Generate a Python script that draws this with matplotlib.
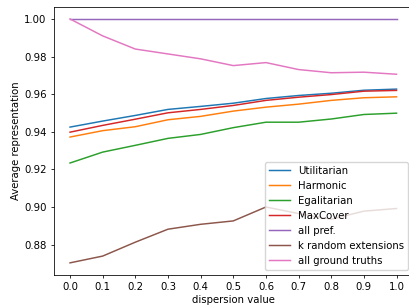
import numpy as np
import matplotlib
matplotlib.use("Agg")
import matplotlib.pyplot as plt

dispersion = [0.0, 0.1, 0.2, 0.3, 0.4, 0.5, 0.6, 0.7, 0.8, 0.9, 1.0]

utilitarian = [0.9425, 0.9457, 0.9487, 0.9519, 0.9535, 0.9552, 0.9577, 0.9593, 0.9605, 0.9621, 0.9627]
harmonic = [0.9372, 0.9406, 0.9427, 0.9464, 0.9482, 0.9510, 0.9531, 0.9547, 0.9567, 0.9581, 0.9586]
egalitarian = [0.9234, 0.9292, 0.9328, 0.9365, 0.9386, 0.9422, 0.9451, 0.9451, 0.9468, 0.9492, 0.9499]
maxcover = [0.9398, 0.9434, 0.9467, 0.9501, 0.9519, 0.9540, 0.9567, 0.9584, 0.9598, 0.9616, 0.9620]
all_pref = [1.0] * 11
k_random = [0.8703, 0.8739, 0.8813, 0.8882, 0.8908, 0.8926, 0.9000, 0.8965, 0.8935, 0.8978, 0.8992]
all_ground = [1.0, 0.991, 0.984, 0.9814, 0.9788, 0.9752, 0.9768, 0.9731, 0.9714, 0.9717, 0.9706]

series = [
    (utilitarian, "Utilitarian"),
    (harmonic, "Harmonic"),
    (egalitarian, "Egalitarian"),
    (maxcover, "MaxCover"),
    (all_pref, "all pref."),
    (k_random, "k random extensions"),
    (all_ground, "all ground truths"),
]

fs = 7.25

fig = plt.figure(figsize=(4.1, 3.08), dpi=100)
# the original is cropped on the right, so the axes run past the edge
ax = fig.add_axes([0.131, 0.107, 0.876, 0.871])
for values, name in series:
    ax.plot(dispersion, values, label=name, linewidth=1.07)

ax.set_xticks(dispersion)
ax.set_xlabel("dispersion value", fontsize=fs, labelpad=2.5)
ax.set_ylabel("Average representation", fontsize=fs, labelpad=2.5)
ax.tick_params(labelsize=fs, length=2.5, width=0.57, pad=2.5)
for s in ax.spines.values():
    s.set_linewidth(0.57)
ax.legend(loc="lower right", fontsize=fs, borderaxespad=0.5)
fig.savefig("out.png")
